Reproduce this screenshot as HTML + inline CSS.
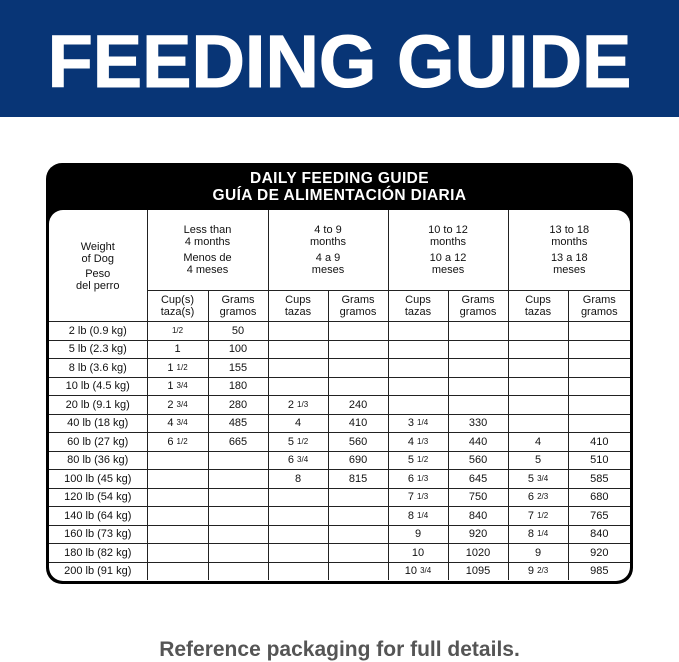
<!DOCTYPE html>
<html><head><meta charset="utf-8"><style>
html,body{margin:0;padding:0;background:#fff;}
body{width:679px;height:662px;position:relative;overflow:hidden;font-family:"Liberation Sans",Arial,sans-serif;}
.banner{position:absolute;left:0;top:0;width:679px;height:117px;background:#083576;}
.title{position:absolute;left:0;width:679px;top:22px;text-align:center;color:#fff;font-weight:bold;font-size:74px;line-height:80px;-webkit-text-stroke:1px #fff;}
.box{position:absolute;left:46px;top:163px;width:587px;height:421px;background:#000;border-radius:16px;}
.hd{position:absolute;left:0;top:7px;width:587px;text-align:center;color:#fff;font-weight:bold;font-size:15.5px;line-height:17px;letter-spacing:0.4px;}
.white{position:absolute;left:3px;top:47px;width:581px;height:371px;background:#fff;border-radius:14px;overflow:hidden;}
table{border-collapse:collapse;table-layout:fixed;width:581px;position:absolute;left:0;top:0;}
td{border:1px solid #222;padding:0;text-align:center;font-size:11px;color:#111;height:17.5px;line-height:12px;overflow:hidden;white-space:nowrap;}
tr.h1 td{height:80px;font-size:11px;line-height:12px;}
tr.h2 td{height:30px;line-height:12px;}
tr td:first-child{border-left:none;}
tr td:last-child{border-right:none;}
tr:last-child td{border-bottom:none;}
tr.h1 td{border-top:none;}
td.w{font-size:13px;line-height:14px;vertical-align:top;padding-top:31px;}
.f{font-size:8px;line-height:0;position:relative;top:-1px;}
.foot{position:absolute;left:0;width:679px;top:638px;text-align:center;color:#555;font-weight:bold;font-size:21px;}
</style></head><body>
<div class="banner"><div class="title">FEEDING GUIDE</div></div>
<div class="box">
<div class="hd">DAILY FEEDING GUIDE<br>GUÍA DE ALIMENTACIÓN DIARIA</div>
<div class="white">
<table>
<colgroup><col style="width:98px"><col style="width:61px"><col style="width:60px"><col style="width:60px"><col style="width:60px"><col style="width:60px"><col style="width:60px"><col style="width:60px"><col style="width:62px"></colgroup>
<tr class="h1"><td rowspan="2" class="w">Weight<br>of Dog<div style="height:3px"></div>Peso<br>del perro</td>
<td colspan="2">Less than<br>4 months<div style="height:4px"></div>Menos de<br>4 meses</td>
<td colspan="2">4 to 9<br>months<div style="height:4px"></div>4 a 9<br>meses</td>
<td colspan="2">10 to 12<br>months<div style="height:4px"></div>10 a 12<br>meses</td>
<td colspan="2">13 to 18<br>months<div style="height:4px"></div>13 a 18<br>meses</td></tr>
<tr class="h2"><td>Cup(s)<br>taza(s)</td><td>Grams<br>gramos</td><td>Cups<br>tazas</td><td>Grams<br>gramos</td><td>Cups<br>tazas</td><td>Grams<br>gramos</td><td>Cups<br>tazas</td><td>Grams<br>gramos</td></tr>
<tr><td>2 lb (0.9 kg)</td><td><span class="f">1/2</span></td><td>50</td><td></td><td></td><td></td><td></td><td></td><td></td></tr>
<tr><td>5 lb (2.3 kg)</td><td>1</td><td>100</td><td></td><td></td><td></td><td></td><td></td><td></td></tr>
<tr><td>8 lb (3.6 kg)</td><td>1 <span class="f">1/2</span></td><td>155</td><td></td><td></td><td></td><td></td><td></td><td></td></tr>
<tr><td>10 lb (4.5 kg)</td><td>1 <span class="f">3/4</span></td><td>180</td><td></td><td></td><td></td><td></td><td></td><td></td></tr>
<tr><td>20 lb (9.1 kg)</td><td>2 <span class="f">3/4</span></td><td>280</td><td>2 <span class="f">1/3</span></td><td>240</td><td></td><td></td><td></td><td></td></tr>
<tr><td>40 lb (18 kg)</td><td>4 <span class="f">3/4</span></td><td>485</td><td>4</td><td>410</td><td>3 <span class="f">1/4</span></td><td>330</td><td></td><td></td></tr>
<tr><td>60 lb (27 kg)</td><td>6 <span class="f">1/2</span></td><td>665</td><td>5 <span class="f">1/2</span></td><td>560</td><td>4 <span class="f">1/3</span></td><td>440</td><td>4</td><td>410</td></tr>
<tr><td>80 lb (36 kg)</td><td></td><td></td><td>6 <span class="f">3/4</span></td><td>690</td><td>5 <span class="f">1/2</span></td><td>560</td><td>5</td><td>510</td></tr>
<tr><td>100 lb (45 kg)</td><td></td><td></td><td>8</td><td>815</td><td>6 <span class="f">1/3</span></td><td>645</td><td>5 <span class="f">3/4</span></td><td>585</td></tr>
<tr><td>120 lb (54 kg)</td><td></td><td></td><td></td><td></td><td>7 <span class="f">1/3</span></td><td>750</td><td>6 <span class="f">2/3</span></td><td>680</td></tr>
<tr><td>140 lb (64 kg)</td><td></td><td></td><td></td><td></td><td>8 <span class="f">1/4</span></td><td>840</td><td>7 <span class="f">1/2</span></td><td>765</td></tr>
<tr><td>160 lb (73 kg)</td><td></td><td></td><td></td><td></td><td>9</td><td>920</td><td>8 <span class="f">1/4</span></td><td>840</td></tr>
<tr><td>180 lb (82 kg)</td><td></td><td></td><td></td><td></td><td>10</td><td>1020</td><td>9</td><td>920</td></tr>
<tr><td>200 lb (91 kg)</td><td></td><td></td><td></td><td></td><td>10 <span class="f">3/4</span></td><td>1095</td><td>9 <span class="f">2/3</span></td><td>985</td></tr>
</table>
</div></div>
<div class="foot">Reference packaging for full details.</div>
</body></html>
